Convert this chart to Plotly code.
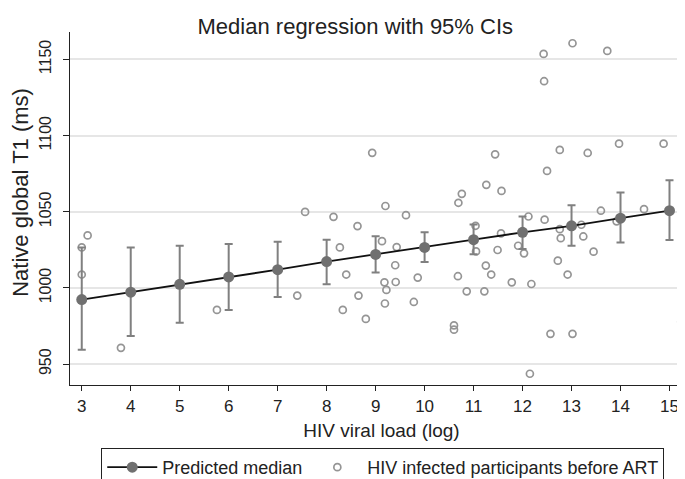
import plotly.graph_objects as go

# predicted median with 95% CI, per unit of log viral load
pred_x = [3, 4, 5, 6, 7, 8, 9, 10, 11, 12, 13, 14, 15]
pred_med = [992.4, 997.2, 1002.4, 1007.2, 1012.0, 1017.3, 1022.0, 1026.6, 1031.7, 1036.5, 1040.8, 1045.8, 1050.7]
ci_low = [959.4, 968.4, 977.1, 985.6, 994.1, 1002.4, 1010.1, 1017.0, 1022.1, 1025.5, 1027.7, 1029.9, 1031.4]
ci_high = [1026.6, 1026.6, 1027.7, 1028.8, 1030.4, 1031.7, 1034.0, 1036.6, 1041.7, 1046.9, 1054.3, 1062.6, 1070.7]

# observed participants before ART
obs_x = [3.00, 3.12, 3.00, 3.80, 5.76, 7.40, 7.56, 8.14, 8.27, 8.33,
         8.40, 8.63, 8.65, 8.80, 8.93, 9.13, 9.18, 9.19, 9.20, 9.22,
         9.40, 9.41, 9.43, 9.62, 9.78, 9.86, 10.60, 10.60, 10.68, 10.69,
         10.76, 10.86, 11.04, 11.05, 11.22, 11.25, 11.26, 11.36, 11.44, 11.49,
         11.57, 11.56, 11.78, 11.91, 12.03, 12.12, 12.15, 12.18, 12.43, 12.44,
         12.45, 12.50, 12.57, 12.72, 12.76, 12.76, 12.78, 12.92, 13.02, 13.02,
         13.20, 13.24, 13.33, 13.45, 13.60, 13.73, 13.92, 13.97, 14.48, 14.88,
         15.24]
obs_t1 = [1026.6, 1034.5, 1008.8, 960.7, 985.6, 995.0, 1049.9, 1046.7, 1026.6, 985.6,
          1008.8, 1040.6, 995.0, 979.7, 1088.7, 1030.7, 1003.7, 989.8, 1053.8, 998.7,
          1014.9, 1003.9, 1026.8, 1047.8, 990.8, 1006.8, 975.4, 972.6, 1007.7, 1055.9,
          1061.8, 997.8, 1040.8, 1024.0, 997.8, 1014.7, 1067.7, 1008.8, 1087.7, 1024.9,
          1063.7, 1035.8, 1003.7, 1027.7, 1022.7, 1046.9, 943.7, 1002.6, 1153.6, 1135.7,
          1044.8, 1076.8, 969.9, 1017.9, 1090.6, 1038.6, 1032.7, 1008.8, 1160.6, 969.9,
          1041.5, 1033.8, 1088.6, 1023.8, 1050.7, 1155.6, 1043.7, 1094.7, 1051.7, 1094.7,
          977.8]

x_ticks = list(range(3, 16))
y_ticks = [950, 1000, 1050, 1100, 1150]

FONT = "Liberation Sans, Arial, sans-serif"
INK = "#222222"

err_plus = [h - m for h, m in zip(ci_high, pred_med)]
err_minus = [m - l for m, l in zip(pred_med, ci_low)]

fig = go.Figure()
fig.add_trace(go.Scatter(
    x=obs_x, y=obs_t1, mode="markers",
    name="HIV infected participants before ART",
    marker=dict(symbol="circle-open", size=7, color="#959595", line=dict(width=1.7)),
))
fig.add_trace(go.Scatter(
    x=pred_x, y=pred_med, mode="markers", showlegend=False,
    marker=dict(size=0.1, color="rgba(0,0,0,0)"),
    error_y=dict(type="data", array=err_plus, arrayminus=err_minus,
                 color="#808080", thickness=2, width=4),
))
fig.add_trace(go.Scatter(
    x=pred_x, y=pred_med, mode="lines+markers",
    name="Predicted median",
    line=dict(color="#111111", width=1.8),
    marker=dict(size=11, color="#707070"),
))

fig.update_layout(
    width=685, height=479,
    margin=dict(l=62, r=0, t=24, b=101),
    paper_bgcolor="white", plot_bgcolor="white",
    font=dict(family=FONT, color=INK),
    title=dict(text="Median regression with 95% CIs", x=0.507, xanchor="center",
               y=0.978, yanchor="top", font=dict(size=22, color=INK)),
    legend=dict(
        orientation="h", x=0.502, xanchor="center", y=-0.178, yanchor="top",
        bordercolor=INK, borderwidth=1, font=dict(size=18),
        traceorder="reversed", itemwidth=50,
    ),
    annotations=[dict(
        text="Native global T1 (ms)", textangle=-90, showarrow=False,
        xref="paper", yref="paper", x=-0.080, y=0.545,
        xanchor="center", yanchor="middle", font=dict(size=22, color=INK),
    )],
)
fig.update_xaxes(
    range=[2.76, 15.48], tickvals=x_ticks, showgrid=False, zeroline=False,
    showline=True, linecolor=INK, linewidth=1.2,
    ticks="outside", ticklen=5, tickcolor=INK, tickfont=dict(size=17),
    title=dict(text="HIV viral load (log)", font=dict(size=19), standoff=9),
)
fig.update_yaxes(
    range=[936.3, 1168], tickvals=y_ticks, showgrid=True, gridcolor="#e6e6e6",
    gridwidth=1.5, zeroline=False,
    showline=True, linecolor=INK, linewidth=1.2,
    ticks="outside", ticklen=6, tickcolor=INK, tickfont=dict(size=16),
    tickangle=-90, ticklabelstandoff=6,
)

fig.write_html("out.html")
